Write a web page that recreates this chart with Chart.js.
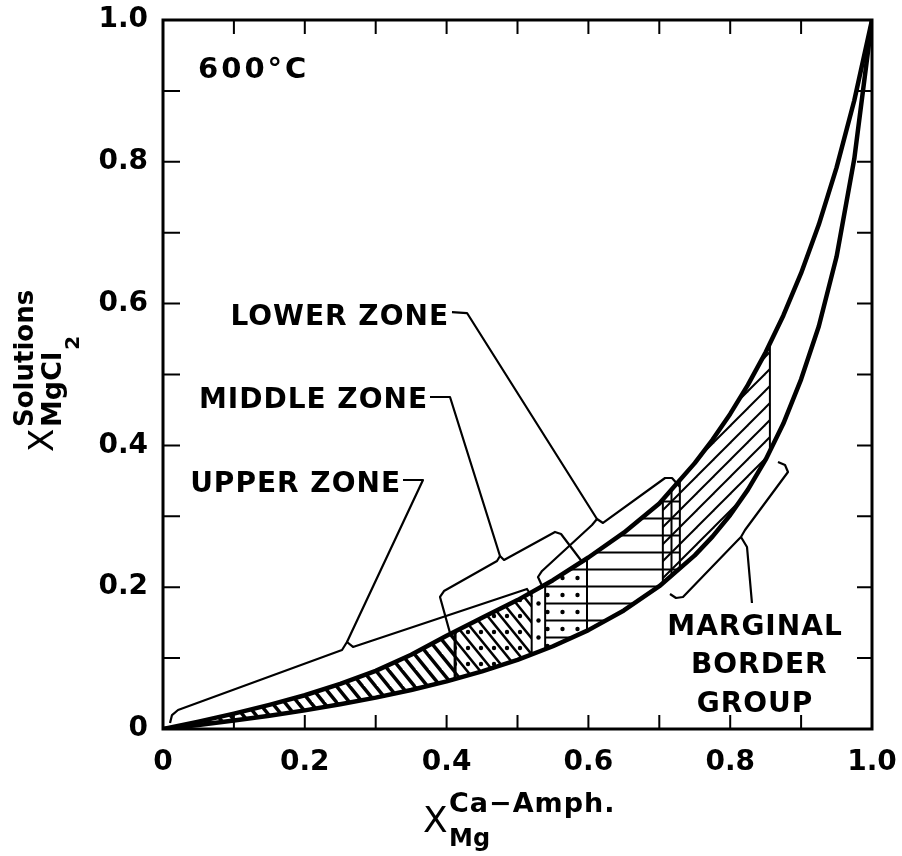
<!DOCTYPE html>
<html>
<head>
<meta charset="utf-8">
<script src="https://cdn.jsdelivr.net/npm/chart.js@4.4.1/dist/chart.umd.min.js"></script>
<style>
  html, body { margin: 0; padding: 0; background: #fff; }
  #wrap { width: 902px; height: 856px; position: relative; }
</style>
</head>
<body>
<div id="wrap"><canvas id="grafico"></canvas></div>
<script>
// valores (600 °C)
const curveX = [0, 0.05, 0.1, 0.15, 0.2, 0.25, 0.3, 0.35, 0.4, 0.45, 0.5, 0.55, 0.6, 0.65, 0.7,
  0.75, 0.775, 0.8, 0.825, 0.85, 0.875, 0.9, 0.925, 0.95, 0.975, 1]
const lowerY = [0, 0.0057, 0.0119, 0.0187, 0.0263, 0.0348, 0.0443, 0.0550, 0.0672, 0.0813, 0.0976,
  0.1167, 0.1395, 0.1672, 0.2014, 0.2449, 0.2713, 0.3019, 0.3376, 0.3799, 0.4308, 0.4932, 0.5680,
  0.6660, 0.8040, 1]
const upperY = [0, 0.0104, 0.0217, 0.0341, 0.0476, 0.0637, 0.0820, 0.1048, 0.1316, 0.1568, 0.1818,
  0.2099, 0.2419, 0.2769, 0.3182, 0.3750, 0.4079, 0.4444, 0.4853, 0.5313, 0.5833, 0.6429, 0.7115,
  0.7917, 0.8864, 1]

// limites das zonas hachuradas
const zoneX = [0, 0.412, 0.520, 0.539, 0.598, 0.705, 0.729, 0.856]
const zoneLower = [0, 0.0706, 0.1052, 0.1125, 0.1386, 0.2058, 0.2266, 0.3921]
const zoneUpper = [0, 0.1376, 0.1930, 0.2037, 0.2406, 0.3239, 0.3511, 0.5438]

// chaves (brackets) e linhas de chamada
const upperBracket = [[0.0099, 0.0085], [0.0127, 0.0197], [0.0212, 0.0268], [0.2525, 0.1114],
  [0.2595, 0.1227], [0.268, 0.1157], [0.5134, 0.1975], [0.5205, 0.1862]]
const middleBracket = [[0.4048, 0.1354], [0.3907, 0.1862], [0.3963, 0.1946], [0.4711, 0.2370],
  [0.4753, 0.2440], [0.4810, 0.2384], [0.5529, 0.2779], [0.5614, 0.2750], [0.5924, 0.2341]]
const lowerBracket = [[0.536, 0.1989], [0.5289, 0.2144], [0.5346, 0.2229], [0.6051, 0.2878],
  [0.6121, 0.2962], [0.6206, 0.2906], [0.7081, 0.354], [0.7179, 0.354], [0.7292, 0.3413]]
const marginalBracket = [[0.8674, 0.3766], [0.8773, 0.3724], [0.8815, 0.3625], [0.8209, 0.2807],
  [0.8152, 0.2708], [0.8096, 0.2652], [0.7334, 0.1862], [0.7236, 0.1848], [0.7151, 0.1904]]
const upperLeader = [[0.3385, 0.3512], [0.3667, 0.3512], [0.2595, 0.1227]]
const middleLeader = [[0.3766, 0.4683], [0.4048, 0.4683], [0.4753, 0.2440]]
const lowerLeader = [[0.4076, 0.5881], [0.4288, 0.5867], [0.6121, 0.2962]]
const marginalLeader = [[0.8152, 0.2708], [0.8237, 0.2567], [0.8307, 0.1777]]

const tickValues = [0, 0.2, 0.4, 0.6, 0.8, 1]
const tickLabels = ['0', '0.2', '0.4', '0.6', '0.8', '1.0']
const minorTicks = [0.1, 0.2, 0.3, 0.4, 0.5, 0.6, 0.7, 0.8, 0.9]

// textos: [texto, x, y, alinhamento]
const notes = [
  ['600°C', 0.0494, 0.9182, 'left'],
  ['LOWER ZONE', 0.4034, 0.5698, 'right'],
  ['MIDDLE ZONE', 0.3738, 0.4528, 'right'],
  ['UPPER ZONE', 0.3357, 0.3343, 'right'],
  ['MARGINAL', 0.835, 0.1326, 'center'],
  ['BORDER', 0.841, 0.079, 'center'],
  ['GROUP', 0.835, 0.024, 'center']
]

// Configuração do gráfico
Chart.defaults.font.family = '"DejaVu Sans", sans-serif'
Chart.defaults.font.size = 28
Chart.defaults.font.weight = 'bold'
Chart.defaults.color = '#000'

// padrões de hachura
function pat(w, h, draw) {
  const c = document.createElement('canvas')
  c.width = w
  c.height = h
  const g = c.getContext('2d')
  g.strokeStyle = '#000'
  g.fillStyle = '#000'
  draw(g, w, h)
  return g.createPattern(c, 'repeat')
}
function back(g, w, h, lw) {
  g.lineWidth = lw
  for (const dx of [-w, 0, w]) {
    g.beginPath(); g.moveTo(dx - w, -h); g.lineTo(dx + 2 * w, 2 * h); g.stroke()
  }
}
function slash(g, w, h, lw) {
  g.lineWidth = lw
  for (const dx of [-w, 0, w]) {
    g.beginPath(); g.moveTo(dx - w, 2 * h); g.lineTo(dx + 2 * w, -h); g.stroke()
  }
}
function dot(g, x, y, r) {
  g.beginPath(); g.arc(x, y, r, 0, Math.PI * 2); g.fill()
}
const patterns = [
  pat(13, 16, (g, w, h) => back(g, w, h, 3.5)),
  pat(13, 16, (g, w, h) => { back(g, w, h, 2.5); dot(g, 0, 8, 2.2); dot(g, 13, 8, 2.2) }),
  pat(13, 17, (g) => { dot(g, 5.5, 8.5, 2.2) }),
  pat(15, 17, (g, w) => { g.fillRect(0, 7.5, w, 2); dot(g, 7.5, 0, 2.2); dot(g, 7.5, 17, 2.2) }),
  pat(15, 17, (g, w) => { g.fillRect(0, 7.5, w, 2) }),
  pat(17, 17, (g, w, h) => { g.fillRect(0, 7.5, w, 2); g.fillRect(7.5, 0, 2, h); slash(g, w, h, 2) }),
  pat(17, 17, (g, w, h) => slash(g, w, h, 2))
]

function segment(ys, zoneYs, i) {
  const x0 = zoneX[i], x1 = zoneX[i + 1]
  const pts = [{ x: x0, y: zoneYs[i] }]
  curveX.forEach((x, k) => { if (x > x0 && x < x1) pts.push({ x, y: ys[k] }) })
  pts.push({ x: x1, y: zoneYs[i + 1] })
  return pts
}
const toPts = arr => arr.map(p => ({ x: p[0], y: p[1] }))

const datasets = []
for (let i = 0; i < zoneX.length - 1; i++) {
  datasets.push({ data: segment(lowerY, zoneLower, i), borderWidth: 0, fill: false })
  datasets.push({ data: segment(upperY, zoneUpper, i), borderWidth: 0, fill: '-1', backgroundColor: patterns[i] })
}
for (let i = 1; i < zoneX.length; i++) {
  datasets.push({ data: [{ x: zoneX[i], y: zoneLower[i] }, { x: zoneX[i], y: zoneUpper[i] }], borderWidth: i === 1 ? 3 : 2 })
}
for (const b of [upperBracket, middleBracket, lowerBracket, marginalBracket,
  upperLeader, middleLeader, lowerLeader, marginalLeader]) {
  datasets.push({ data: toPts(b), borderWidth: 2.2 })
}
datasets.push({ data: curveX.map((x, k) => ({ x, y: lowerY[k] })), borderWidth: 4.5 })
datasets.push({ data: curveX.map((x, k) => ({ x, y: upperY[k] })), borderWidth: 4.5 })
datasets.forEach(d => {
  d.borderColor = '#000'
  d.pointRadius = 0
  d.tension = 0
  d.borderJoinStyle = 'round'
  if (d.fill === undefined) d.fill = false
})

function text(ctx, s, x, y, font, align, spacing) {
  ctx.font = font
  ctx.textAlign = align
  ctx.textBaseline = 'alphabetic'
  ctx.letterSpacing = spacing || '0px'
  ctx.fillText(s, x, y)
}

const decor = {
  id: 'decor',
  afterDatasetsDraw(chart) {
    const ctx = chart.ctx
    const a = chart.chartArea
    const sx = chart.scales.x, sy = chart.scales.y
    ctx.save()
    ctx.strokeStyle = '#000'
    ctx.fillStyle = '#000'
    // moldura e marcas para dentro
    ctx.lineWidth = 3
    ctx.strokeRect(a.left, a.top, a.right - a.left, a.bottom - a.top)
    ctx.lineWidth = 2
    ctx.beginPath()
    minorTicks.forEach(v => {
      const px = sx.getPixelForValue(v), py = sy.getPixelForValue(v)
      ctx.moveTo(px, a.bottom); ctx.lineTo(px, a.bottom - 14)
      ctx.moveTo(px, a.top); ctx.lineTo(px, a.top + 14)
      ctx.moveTo(a.left, py); ctx.lineTo(a.left + 17, py)
      ctx.moveTo(a.right, py); ctx.lineTo(a.right - 15, py)
    })
    ctx.stroke()
    // textos dentro do gráfico
    notes.forEach(n => {
      text(ctx, n[0], sx.getPixelForValue(n[1]), sy.getPixelForValue(n[2]),
        n[0] === '600°C' ? 'bold 29px "DejaVu Sans"' : 'bold 28px "DejaVu Sans"', n[3],
        n[0] === '600°C' ? '3px' : '1px')
    })
    // título do eixo x
    text(ctx, 'X', a.left + 260, a.bottom + 103, '36px "DejaVu Sans"', 'left')
    text(ctx, 'Ca\u2212Amph.', a.left + 286, a.bottom + 83, 'bold 27px "DejaVu Sans"', 'left', '1px')
    text(ctx, 'Mg', a.left + 286, a.bottom + 117, 'bold 24px "DejaVu Sans"', 'left')
    // título do eixo y (girado)
    const rot = (s, bx, by, font) => {
      ctx.save()
      ctx.translate(bx, by)
      ctx.rotate(-Math.PI / 2)
      text(ctx, s, 0, 0, font, 'left')
      const w = ctx.measureText(s).width
      ctx.restore()
      return w
    }
    rot('X', a.left - 110, 452, '34px "DejaVu Sans"')
    rot('Solutions', a.left - 130, 427, 'bold 26px "DejaVu Sans"')
    const w = rot('MgCl', a.left - 102, 427, 'bold 27px "DejaVu Sans"')
    rot('2', a.left - 84, 425 - w, 'bold 20px "DejaVu Sans"')
    ctx.restore()
  }
}

const ctx = document.getElementById('grafico')

const config = {
  type: 'line',
  data: { datasets },
  options: {
    responsive: true,
    maintainAspectRatio: false,
    animation: false,
    layout: { padding: { left: 0, top: 20, right: 30, bottom: 0 } },
    plugins: { legend: { display: false }, tooltip: { enabled: false } },
    events: [],
    scales: {
      x: {
        type: 'linear', min: 0, max: 1,
        grid: { display: false, drawTicks: false },
        border: { display: false },
        ticks: { stepSize: 0.2, padding: 17, maxRotation: 0, autoSkip: false,
          callback: (v) => tickLabels[tickValues.findIndex(t => Math.abs(t - v) < 1e-6)] },
        afterFit: s => { s.height = 127; s.paddingLeft = 0; s.paddingRight = 0 }
      },
      y: {
        type: 'linear', min: 0, max: 1,
        grid: { display: false, drawTicks: false },
        border: { display: false },
        ticks: { stepSize: 0.2, padding: 15,
          callback: (v) => tickLabels[tickValues.findIndex(t => Math.abs(t - v) < 1e-6)] },
        afterFit: s => { s.width = 163; s.paddingTop = 0; s.paddingBottom = 0 }
      }
    }
  },
  plugins: [decor]
}

const graph = new Chart(ctx, config)
</script>
</body>
</html>
